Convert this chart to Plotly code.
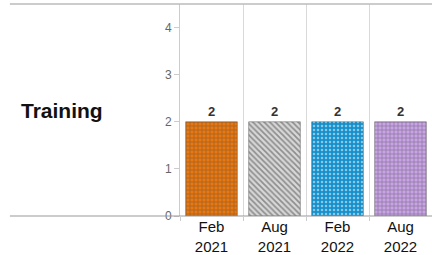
import plotly.graph_objects as go

categories = ["Feb<br>2021", "Aug<br>2021", "Feb<br>2022", "Aug<br>2022"]
values = [2, 2, 2, 2]
row_label = "Training"
y_ticks = [0, 1, 2, 3, 4]

bgcolors = ["#e8780f", "#d8d8d8", "#1590cc", "#c8a4e6"]
fgcolors = ["#6a2c00", "#2a2a2a", "#0a5a88", "#7a5aa0"]
shapes_ = ["+", "\\", ".", "+"]
solidities = [0.3, 0.45, 0.3, 0.3]

fig = go.Figure()
fig.add_trace(go.Bar(
    x=categories,
    y=values,
    text=[str(v) for v in values],
    textposition="outside",
    cliponaxis=False,
    textfont=dict(family="Liberation Sans", size=13, color="#333333", weight="bold"),
    marker=dict(
        color=bgcolors,
        line=dict(color="rgba(60,60,60,0.7)", width=0.6),
        pattern=dict(shape=shapes_, fgcolor=fgcolors,
                     size=4, solidity=solidities, fillmode="overlay"),
    ),
    showlegend=False,
))

fig.update_layout(
    width=432, height=255,
    margin=dict(l=180, r=0, t=4, b=39),
    paper_bgcolor="white", plot_bgcolor="white",
    bargap=0.18,
    font=dict(family="Liberation Sans"),
    xaxis=dict(
        tickson="boundaries", showgrid=True, gridcolor="#d9d9d9", gridwidth=1,
        ticks="outside", ticklen=4, tickcolor="#cccccc",
        tickfont=dict(size=15, color="#111111"),
        ticklabelstandoff=0,
        showline=False, zeroline=False,
    ),
    yaxis=dict(
        range=[0, 4.5], tickvals=y_ticks, showgrid=False, zeroline=False,
        showline=True, linecolor="#cccccc", linewidth=1,
        ticks="outside", ticklen=5, tickcolor="#cccccc",
        tickfont=dict(size=12, color="#666666"),
    ),
    shapes=[
        dict(type="line", xref="paper", yref="paper", x0=-0.675, x1=1, y0=1, y1=1,
             line=dict(color="#bbbbbb", width=1.5)),
        dict(type="line", xref="paper", yref="paper", x0=-0.675, x1=1, y0=0, y1=0,
             line=dict(color="#999999", width=1)),
    ],
    annotations=[
        dict(text="<b>" + row_label + "</b>", xref="paper", yref="paper",
             x=-0.64, y=0.5, xanchor="left", yanchor="middle", showarrow=False,
             font=dict(size=21, color="#111111", family="Liberation Sans")),
    ],
)

fig.write_html("out.html", config={"displayModeBar": False},
               post_script="document.body.style.margin='0';")
